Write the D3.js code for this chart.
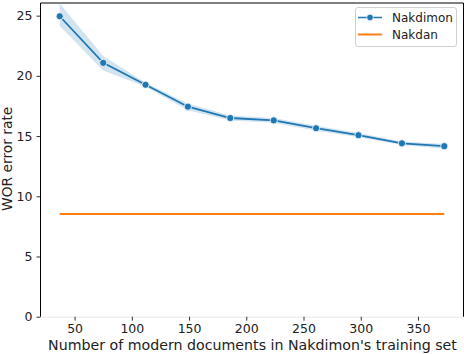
<!DOCTYPE html>
<html><head><meta charset="utf-8">
<script src="https://cdn.jsdelivr.net/npm/d3@7/dist/d3.min.js"></script>
<style>body{margin:0;background:#fff;} svg{display:block;font-family:"DejaVu Sans",sans-serif;}</style>
</head><body>
<svg id="c" width="464" height="354"></svg>
<script>
const docs = [37, 75, 112, 149, 186, 224, 261, 298, 336, 373];
const nakdimon = [24.95, 21.08, 19.26, 17.44, 16.5, 16.3, 15.65, 15.07, 14.4, 14.16];
const nakdimonLo = [24.15, 20.45, 19.1, 17.15, 16.3, 16.1, 15.45, 14.9, 14.25, 13.95];
const nakdimonHi = [26.0, 21.65, 19.42, 17.7, 16.7, 16.5, 15.85, 15.25, 14.55, 14.35];
const nakdan = [8.53, 8.53];
const nakdanX = [37, 373];
const xTicks = [50, 100, 150, 200, 250, 300, 350];
const yTicks = [0, 5, 10, 15, 20, 25];

const blue = "#1f77b4", orange = "#ff7f0e";
const svg = d3.select("#c");
const L = 40.5, R = 463.5, T = 3, B = 316.7;
const x = d3.scaleLinear().domain([20.2, 389.8]).range([L, R]);
const y = d3.scaleLinear().domain([0, 26.05]).range([B, T]);

// band
const band = docs.map((d, i) => ({x: d, lo: nakdimonLo[i], hi: nakdimonHi[i]}));
svg.append("path").datum(band)
  .attr("d", d3.area().x(d => x(d.x)).y0(d => y(d.lo)).y1(d => y(d.hi)))
  .attr("fill", blue).attr("fill-opacity", 0.2).attr("stroke", "none");

// Nakdan line
svg.append("path").datum(nakdanX.map((d, i) => [d, nakdan[i]]))
  .attr("d", d3.line().x(d => x(d[0])).y(d => y(d[1])))
  .attr("stroke", orange).attr("stroke-width", 2).attr("fill", "none");

// Nakdimon line
const pts = docs.map((d, i) => [d, nakdimon[i]]);
svg.append("path").datum(pts)
  .attr("d", d3.line().x(d => x(d[0])).y(d => y(d[1])))
  .attr("stroke", blue).attr("stroke-width", 1.8).attr("fill", "none");
svg.selectAll("circle.pt").data(pts).join("circle").attr("class", "pt")
  .attr("cx", d => x(d[0])).attr("cy", d => y(d[1])).attr("r", 3.6)
  .attr("fill", blue).attr("stroke", "#fff").attr("stroke-width", 0.8);

// axes
const fs = 12.5;
const xAxis = svg.append("g").attr("transform", `translate(0,${B})`)
  .call(d3.axisBottom(x).tickValues(xTicks).tickSize(4).tickPadding(3));
xAxis.select(".domain").attr("stroke", "#e8e8e8").attr("d", `M${L},0.5H${R}`);
xAxis.selectAll(".tick line").attr("stroke", "#333");
xAxis.selectAll("text").attr("font-size", fs).attr("font-family", "DejaVu Sans").attr("fill", "#222");

const yAxis = svg.append("g").attr("transform", `translate(${L},0)`)
  .call(d3.axisLeft(y).tickValues(yTicks).tickSize(4).tickPadding(4));
yAxis.select(".domain").remove();
yAxis.selectAll(".tick line").attr("stroke", "#333");
yAxis.selectAll("text").attr("font-size", fs).attr("font-family", "DejaVu Sans").attr("fill", "#222");

// spines
svg.append("line").attr("x1", L).attr("x2", L).attr("y1", T).attr("y2", B).attr("stroke", "#000").attr("stroke-width", 1);
svg.append("line").attr("x1", L).attr("x2", R).attr("y1", T).attr("y2", T).attr("stroke", "#000").attr("stroke-width", 1);
svg.append("line").attr("x1", R).attr("x2", R).attr("y1", T).attr("y2", B).attr("stroke", "#000").attr("stroke-width", 1);

// labels
svg.append("text").attr("x", 252.5).attr("y", 350).attr("text-anchor", "middle")
  .attr("font-size", 14.2).attr("fill", "#222").text("Number of modern documents in Nakdimon's training set");
svg.append("text").attr("transform", `translate(12,${(T + B) / 2 - 1}) rotate(-90)`).attr("text-anchor", "middle")
  .attr("font-size", 13.8).attr("fill", "#222").text("WOR error rate");

// legend
const lg = svg.append("g");
lg.append("rect").attr("x", 355.5).attr("y", 7.5).attr("width", 101).attr("height", 39).attr("rx", 2.5)
  .attr("fill", "#fff").attr("fill-opacity", 0.8).attr("stroke", "#d0d0d0");
const items = [{name: "Nakdimon", color: blue, marker: true, w: 1.5}, {name: "Nakdan", color: orange, marker: false, w: 2}];
items.forEach((it, i) => {
  const yy = 17.5 + i * 17;
  lg.append("line").attr("x1", 358).attr("x2", 382).attr("y1", yy).attr("y2", yy).attr("stroke", it.color).attr("stroke-width", it.w);
  if (it.marker) lg.append("circle").attr("cx", 370).attr("cy", yy).attr("r", 3.3).attr("fill", it.color).attr("stroke", "#fff").attr("stroke-width", 0.7);
  lg.append("text").attr("x", 392).attr("y", yy + 4.3).attr("font-size", 12).attr("fill", "#222").text(it.name);
});
</script>
</body></html>
